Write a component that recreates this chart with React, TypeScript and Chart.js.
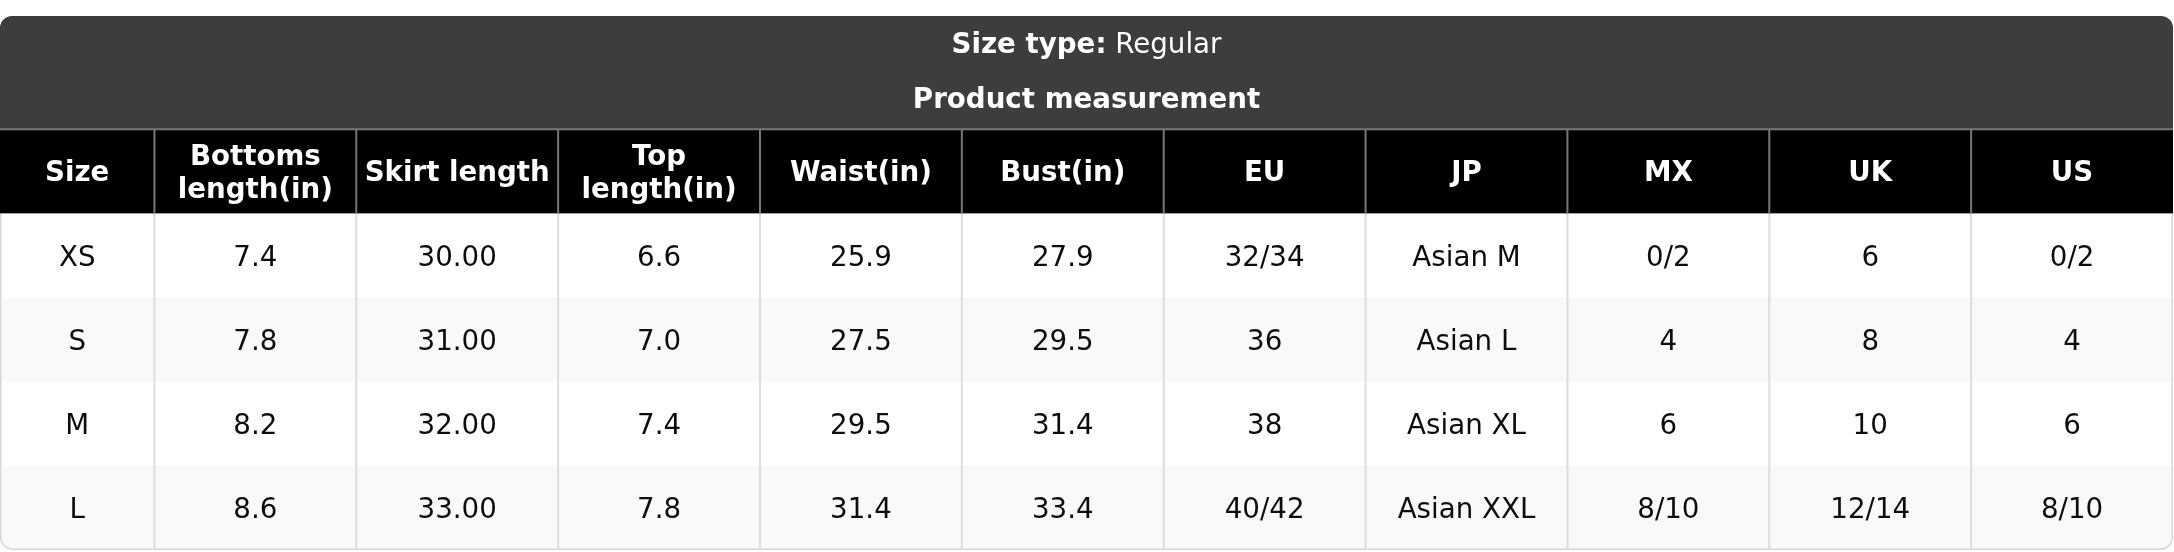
import { useEffect, useRef } from "react";
import { Chart, registerables, Plugin } from "chart.js";

Chart.register(...registerables);

// table content
const sizeTypeLabel = "Size type:";
const sizeType = "Regular";
const tableTitle = "Product measurement";

const headers: string[][] = [
  ["Size"],
  ["Bottoms", "length(in)"],
  ["Skirt length"],
  ["Top", "length(in)"],
  ["Waist(in)"],
  ["Bust(in)"],
  ["EU"],
  ["JP"],
  ["MX"],
  ["UK"],
  ["US"],
];

const sizes = ["XS", "S", "M", "L"];
const bottomsLength = [7.4, 7.8, 8.2, 8.6];
const skirtLength = [30, 31, 32, 33];
const topLength = [6.6, 7.0, 7.4, 7.8];
const waist = [25.9, 27.5, 29.5, 31.4];
const bust = [27.9, 29.5, 31.4, 33.4];
const eu = ["32/34", "36", "38", "40/42"];
const jp = ["Asian M", "Asian L", "Asian XL", "Asian XXL"];
const mx = ["0/2", "4", "6", "8/10"];
const uk = ["6", "8", "10", "12/14"];
const us = ["0/2", "4", "6", "8/10"];

const columns: string[][] = [
  sizes,
  bottomsLength.map((v) => v.toFixed(1)),
  skirtLength.map((v) => v.toFixed(2)),
  topLength.map((v) => v.toFixed(1)),
  waist.map((v) => v.toFixed(1)),
  bust.map((v) => v.toFixed(1)),
  eu,
  jp,
  mx,
  uk,
  us,
];

// layout (in scale units: one body column = 1 on x, one body row = 1 on y)
const FONT = '"DejaVu Sans", Verdana, sans-serif';
const FONT_PX = 27.7;
const LINE_GAP = 32.6;
const FIRST_COL = 0.765;
const BAND = 1.345;
const TITLE_Y = 0.315;
const SUBTITLE_Y = 0.978;

const colEdges = headers.map((_, i) => (i === 0 ? 0 : FIRST_COL + (i - 1)));
colEdges.push(FIRST_COL + headers.length - 1);
const TOTAL_X = colEdges[colEdges.length - 1];
const TOTAL_Y = BAND + 1 + sizes.length;

const tablePlugin: Plugin = {
  id: "sizeTable",
  beforeDraw(chart) {
    const { ctx } = chart;
    const x = chart.scales.x;
    const y = chart.scales.y;
    const px = (v: number) => x.getPixelForValue(v);
    const py = (v: number) => y.getPixelForValue(v);

    const left = px(0);
    const right = px(TOTAL_X);
    const top = py(0);
    const bottom = py(TOTAL_Y);
    const headTop = py(BAND);
    const headBottom = py(BAND + 1);
    const radius = 12;

    ctx.save();

    // body background + stripes
    ctx.beginPath();
    ctx.roundRect(left, top, right - left, bottom - top, radius);
    ctx.fillStyle = "#ffffff";
    ctx.fill();
    ctx.save();
    ctx.clip();
    sizes.forEach((_, r) => {
      if (r % 2 === 1) {
        const y0 = py(BAND + 1 + r);
        const y1 = py(BAND + 2 + r);
        ctx.fillStyle = "#f9f9f9";
        ctx.fillRect(left, y0, right - left, y1 - y0);
      }
    });
    ctx.strokeStyle = "#dddddd";
    ctx.lineWidth = 2;
    for (let i = 1; i < colEdges.length - 1; i++) {
      const cx = px(colEdges[i]);
      ctx.beginPath();
      ctx.moveTo(cx, headBottom);
      ctx.lineTo(cx, bottom);
      ctx.stroke();
    }
    ctx.restore();

    // outer border
    ctx.beginPath();
    ctx.roundRect(left + 0.75, top + 0.75, right - left - 1.5, bottom - top - 1.5, radius);
    ctx.strokeStyle = "#d6d6d6";
    ctx.lineWidth = 1.5;
    ctx.stroke();

    // title band and header row
    ctx.save();
    ctx.beginPath();
    ctx.roundRect(left, top, right - left, bottom - top, radius);
    ctx.clip();
    ctx.fillStyle = "#3d3d3d";
    ctx.fillRect(left, top, right - left, headTop - top);
    ctx.fillStyle = "#000000";
    ctx.fillRect(left, headTop, right - left, headBottom - headTop);
    ctx.strokeStyle = "#777777";
    ctx.lineWidth = 2;
    ctx.beginPath();
    ctx.moveTo(left, headTop);
    ctx.lineTo(right, headTop);
    ctx.stroke();
    for (let i = 1; i < colEdges.length - 1; i++) {
      const cx = px(colEdges[i]);
      ctx.beginPath();
      ctx.moveTo(cx, headTop);
      ctx.lineTo(cx, headBottom);
      ctx.stroke();
    }
    ctx.restore();

    // texts
    const capShift = FONT_PX * 0.364;
    const boldFont = `bold ${FONT_PX}px ${FONT}`;
    const normalFont = `${FONT_PX}px ${FONT}`;
    const midX = (left + right) / 2;
    ctx.textBaseline = "alphabetic";
    ctx.fillStyle = "#ffffff";

    ctx.font = boldFont;
    const labelW = ctx.measureText(sizeTypeLabel).width;
    ctx.font = normalFont;
    const valueW = ctx.measureText(" " + sizeType).width;
    const startX = midX - (labelW + valueW) / 2;
    ctx.textAlign = "left";
    ctx.font = boldFont;
    ctx.fillText(sizeTypeLabel, startX, py(TITLE_Y) + capShift);
    ctx.font = normalFont;
    ctx.fillText(" " + sizeType, startX + labelW, py(TITLE_Y) + capShift);

    ctx.textAlign = "center";
    ctx.font = boldFont;
    ctx.fillText(tableTitle, midX, py(SUBTITLE_Y) + capShift);

    headers.forEach((lines, i) => {
      const cx = px((colEdges[i] + colEdges[i + 1]) / 2);
      const cy = py(BAND + 0.5);
      lines.forEach((line, k) => {
        const off = (k - (lines.length - 1) / 2) * LINE_GAP;
        ctx.fillText(line, cx, cy + off + capShift);
      });
    });

    ctx.font = normalFont;
    ctx.fillStyle = "#0d0d0d";
    columns.forEach((col, i) => {
      const cx = px((colEdges[i] + colEdges[i + 1]) / 2);
      col.forEach((cell, r) => {
        const cy = py(BAND + 1.5 + r);
        ctx.fillText(cell, cx, cy + capShift);
      });
    });

    ctx.restore();
  },
};

const App: React.FC = () => {
  const canvasRef = useRef<HTMLCanvasElement | null>(null);

  useEffect(() => {
    if (!canvasRef.current) return;

    const chart = new Chart(canvasRef.current, {
      type: "scatter",
      data: { datasets: [] },
      options: {
        responsive: true,
        maintainAspectRatio: false,
        animation: false,
        layout: { padding: { top: 16, left: 0, right: 1, bottom: 2 } },
        scales: {
          x: { type: "linear", min: 0, max: TOTAL_X, display: false },
          y: { type: "linear", min: 0, max: TOTAL_Y, reverse: true, display: false },
        },
        plugins: {
          legend: { display: false },
          tooltip: { enabled: false },
        },
      },
      plugins: [tablePlugin],
    });

    return () => {
      chart.destroy();
    };
  }, []);

  return (
    <div style={{ position: "fixed", left: 0, top: 0, width: "2174px", height: "552px", background: "#fff" }}>
      <canvas ref={canvasRef}></canvas>
    </div>
  );
};

export default App;
